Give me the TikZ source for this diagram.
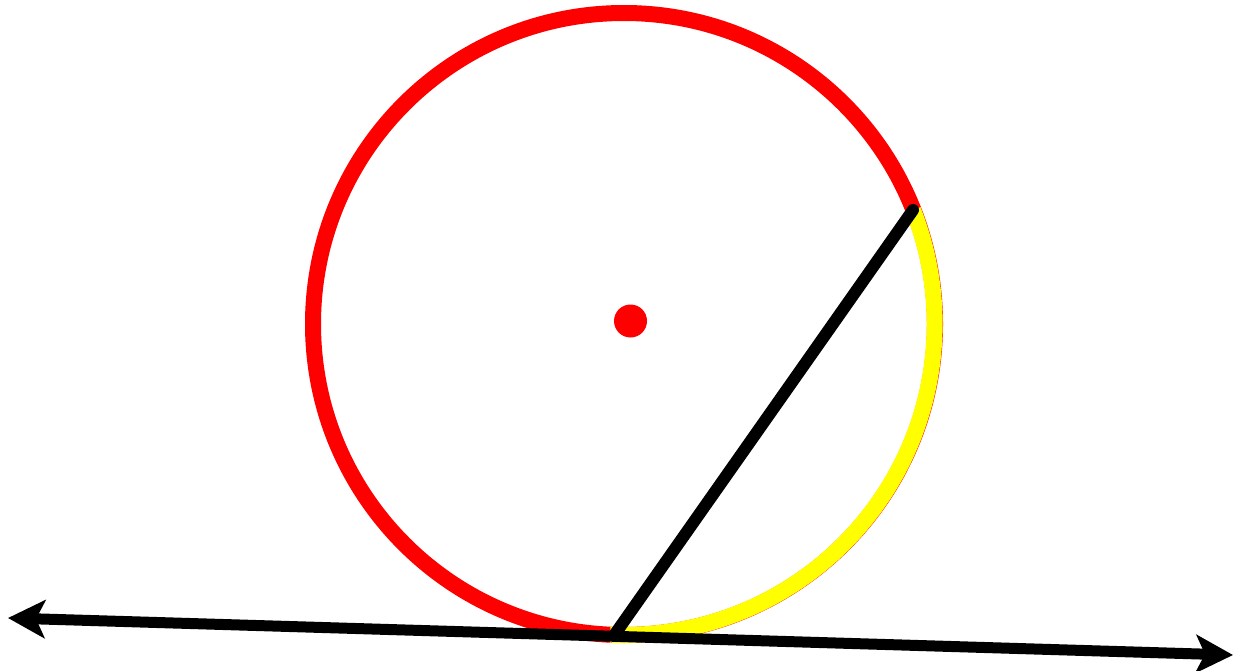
\documentclass[tikz,border=0pt]{standalone}
\usetikzlibrary{arrows.meta}
\definecolor{cred}{RGB}{255,0,0}
\definecolor{cyel}{RGB}{255,255,0}
\begin{document}
\begin{tikzpicture}[x=1pt,y=-1pt,
  ring/.style={line width=16pt},
  chordline/.style={line width=12pt,line cap=round,black},
  tangentline/.style={line width=11pt,black,{Stealth[length=37pt,width=38pt,inset=9pt]}-{Stealth[length=37pt,width=38pt,inset=9pt]}}]
\useasboundingbox (0,0) rectangle (1233,671);
\coordinate (O) at (624,324);
\coordinate (A) at (913,210);
\coordinate (B) at (615,634);
\coordinate (L) at (8,618);
\coordinate (R) at (1233,655);
\draw[ring,cred] (O) circle[radius=311];
\draw[ring,cyel] (A) arc[start angle=-21.5,end angle=92.5,radius=311];
\fill[cred] (630.5,321) circle[radius=16.5];
\draw[tangentline] (L) -- (R);
\draw[chordline] (B) -- (A);
\end{tikzpicture}
\end{document}
